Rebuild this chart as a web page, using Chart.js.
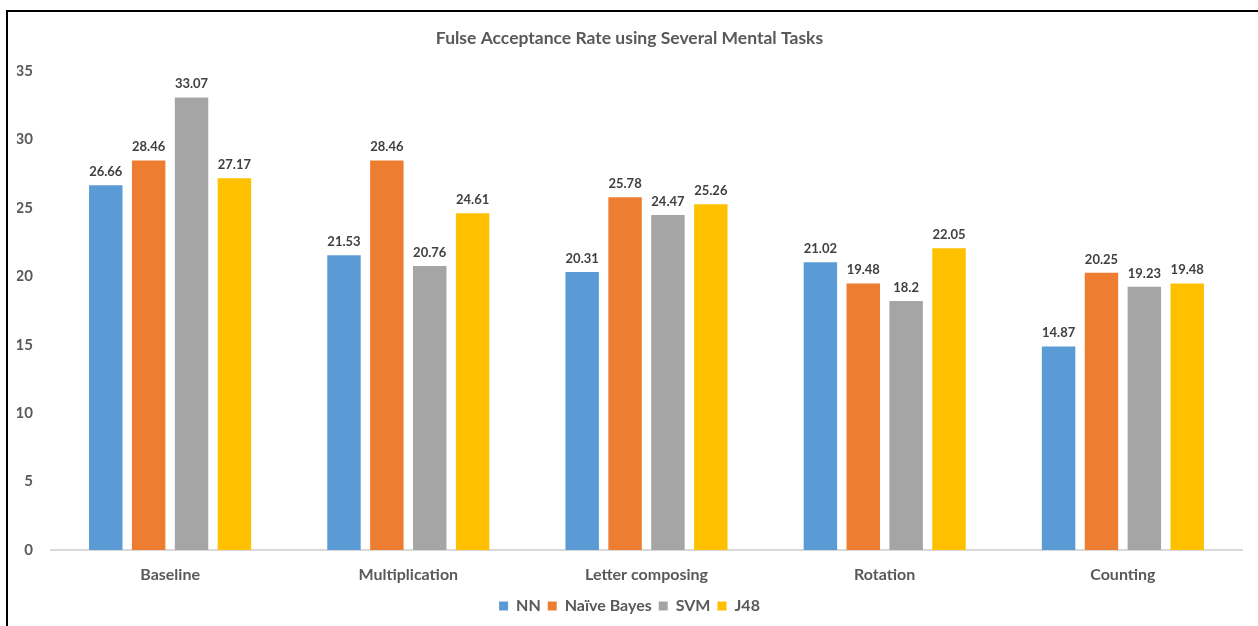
<!DOCTYPE html>
<html>
<head>
<meta charset="utf-8">
<script src="https://cdn.jsdelivr.net/npm/chart.js@4/dist/chart.umd.min.js"></script>
<style>
  html, body { margin:0; padding:0; background:#fff; }
  #wrap { position:relative; width:1258px; height:626px; }
  #frame { position:absolute; left:6px; top:10px; right:0; bottom:0; border-top:2px solid #000; border-left:2px solid #000; pointer-events:none; }
  canvas { position:absolute; left:0; top:0; }
</style>
</head>
<body>
<div id="wrap">
  <canvas id="c" width="1258" height="626"></canvas>
  <div id="frame"></div>
</div>
<script>
const categories = ["Baseline", "Multiplication", "Letter composing", "Rotation", "Counting"];
const seriesNames = ["NN", "Naïve Bayes", "SVM", "J48"];
const nnValues = [26.66, 21.53, 20.31, 21.02, 14.87];
const naiveBayesValues = [28.46, 28.46, 25.78, 19.48, 20.25];
const svmValues = [33.07, 20.76, 24.47, 18.2, 19.23];
const j48Values = [27.17, 24.61, 25.26, 22.05, 19.48];
const yTicks = [0, 5, 10, 15, 20, 25, 30, 35];
const colors = ["#5B9BD5", "#ED7D31", "#A5A5A5", "#FFC000"];
const titleText = "Fulse Acceptance Rate using Several Mental Tasks";

const FONT = "Lato, 'Open Sans', sans-serif";

const valueLabels = {
  id: 'valueLabels',
  afterDatasetsDraw(chart) {
    const ctx = chart.ctx;
    ctx.save();
    ctx.font = "bold 13px " + FONT;
    ctx.fillStyle = "#404040";
    ctx.textAlign = "center";
    ctx.textBaseline = "bottom";
    chart.data.datasets.forEach((ds, i) => {
      const meta = chart.getDatasetMeta(i);
      meta.data.forEach((el, j) => {
        ctx.fillText(String(ds.data[j]), el.x, el.y - 7);
      });
    });
    ctx.restore();
  }
};

const allSeries = [nnValues, naiveBayesValues, svmValues, j48Values];

new Chart(document.getElementById('c'), {
  type: 'bar',
  data: {
    labels: categories,
    datasets: allSeries.map((vals, i) => ({
      label: seriesNames[i],
      data: vals,
      backgroundColor: colors[i],
      borderWidth: 0,
      categoryPercentage: 0.72,
      barPercentage: 0.78
    }))
  },
  options: {
    responsive: false,
    animation: false,
    layout: { padding: { left: 17, right: 16, top: 22, bottom: 2 } },
    plugins: {
      title: {
        display: true,
        text: titleText,
        color: "#595959",
        font: { family: FONT, size: 17.5, weight: 'bold' },
        padding: { top: 6, bottom: 22 }
      },
      legend: {
        position: 'bottom',
        labels: {
          boxWidth: 9, boxHeight: 9,
          color: "#595959",
          font: { family: FONT, size: 16, weight: 'bold' },
          padding: 7
        }
      },
      tooltip: { enabled: false }
    },
    scales: {
      x: {
        afterFit(scale) { scale.height = 41; },
        grid: { display: false, drawTicks: false },
        border: { display: true, color: "#D9D9D9", width: 2 },
        ticks: { color: "#595959", font: { family: FONT, size: 16, weight: 'bold' }, padding: 15 }
      },
      y: {
        min: 0, max: 35,
        afterBuildTicks(scale) { scale.ticks = yTicks.map(v => ({ value: v })); },
        afterFit(scale) { scale.width = 34; },
        grid: { display: false, drawTicks: false },
        border: { display: false },
        ticks: { color: "#595959", font: { family: FONT, size: 15, weight: 'bold' }, padding: 18 }
      }
    }
  },
  plugins: [valueLabels]
});
</script>
</body>
</html>
